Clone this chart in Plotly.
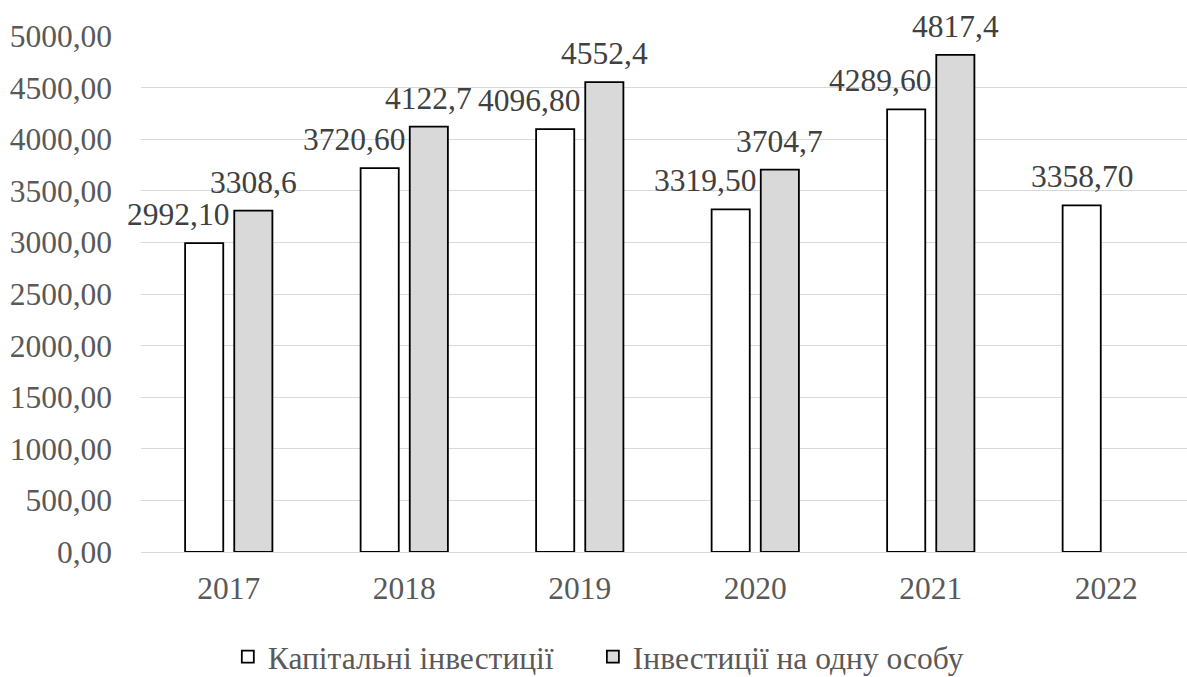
import plotly.graph_objects as go

years = ["2017", "2018", "2019", "2020", "2021", "2022"]
capital_inv = [2992.10, 3720.60, 4096.80, 3319.50, 4289.60, 3358.70]
inv_per_person = [3308.6, 4122.7, 4552.4, 3704.7, 4817.4, None]
name_capital = "Капітальні інвестиції"
name_person = "Інвестиції на одну особу"
y_ticks = [0, 500, 1000, 1500, 2000, 2500, 3000, 3500, 4000, 4500, 5000]

FONT = "Liberation Serif"
FS = 31.5
W, H = 1187, 677
ML, MR, MT, MB = 141, 0, 36, 125

def fmt(v, d):
    return f"{v:.{d}f}".replace(".", ",")

fig = go.Figure()
fig.add_trace(go.Bar(
    x=years, y=capital_inv, name=name_capital, legend="legend",
    marker=dict(color="#ffffff", line=dict(color="#000000", width=1.8)),
))
fig.add_trace(go.Bar(
    x=years, y=inv_per_person, name=name_person, legend="legend2",
    marker=dict(color="#d9d9d9", line=dict(color="#000000", width=1.8)),
))

leg_common = dict(orientation="h", xanchor="left", y=-0.203, yanchor="middle",
                  font=dict(family=FONT, size=FS, color="#595959"),
                  itemwidth=30, bgcolor="rgba(0,0,0,0)")

fig.update_layout(
    width=W, height=H,
    margin=dict(l=ML, r=MR, t=MT, b=MB, pad=0, autoexpand=False),
    paper_bgcolor="#ffffff", plot_bgcolor="#ffffff",
    barmode="group", bargap=0.44, bargroupgap=0.224,
    font=dict(family=FONT, size=FS, color="#595959"),
    showlegend=True,
    legend=dict(x=0.083, **leg_common),
    legend2=dict(x=0.432, **leg_common),
    xaxis=dict(type="category", range=[-0.5, 5.46], showgrid=False, showline=False,
               ticks="", automargin=False,
               tickfont=dict(family=FONT, size=FS, color="#595959"),
               ticklabelstandoff=14),
    yaxis=dict(range=[0, 5000], tickvals=y_ticks,
               ticktext=[fmt(t, 2) for t in y_ticks], automargin=False,
               showgrid=True, gridcolor="#d9d9d9", gridwidth=1.3,
               zeroline=True, zerolinecolor="#d9d9d9", zerolinewidth=1.3,
               zerolinelayer="above traces",
               showline=False, ticks="", ticklabelstandoff=28,
               tickfont=dict(family=FONT, size=FS, color="#595959")),
)

# data labels
half = 24.5  # px from group centre to bar centre
n = len(years)
for i, (yr, v) in enumerate(zip(years, capital_inv)):
    shift = -half - 26 if i < n - 1 else -half
    fig.add_annotation(x=i, y=v, xref="x", yref="y", text=fmt(v, 2),
                       showarrow=False, yanchor="bottom", xanchor="center",
                       xshift=shift, yshift=9,
                       font=dict(family=FONT, size=FS, color="#404040"))
for i, (yr, v) in enumerate(zip(years, inv_per_person)):
    if v is None:
        continue
    fig.add_annotation(x=i, y=v, xref="x", yref="y", text=fmt(v, 1),
                       showarrow=False, yanchor="bottom", xanchor="center",
                       xshift=half, yshift=9,
                       font=dict(family=FONT, size=FS, color="#404040"))

fig.write_html("out.html", config={"displayModeBar": False},
               post_script="document.body.style.margin='0px';document.body.style.overflow='hidden';")
